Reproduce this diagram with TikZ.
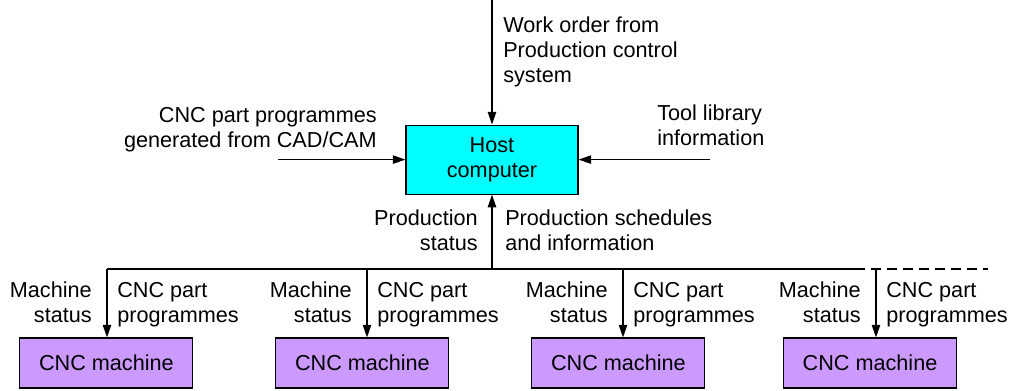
\documentclass[tikz,border=0pt]{standalone}
\usepackage{fontspec}
\setmainfont{Liberation Sans}
\usetikzlibrary{arrows.meta, positioning}

\definecolor{hostcyan}{RGB}{0,255,255}
\definecolor{machviolet}{RGB}{204,153,255}

\begin{document}
\begin{tikzpicture}[
    txt/.style={font=\fontsize{15.4}{17.8}\selectfont, inner sep=0pt},
    flow/.style={line width=0.9pt, -{Triangle[length=9pt, width=6pt]}},
    hostbox/.style={draw, line width=0.8pt, fill=hostcyan, minimum width=4.3cm,
        minimum height=1.725cm, align=center, txt},
    machbox/.style={draw, line width=0.8pt, fill=machviolet, minimum width=4.325cm,
        minimum height=1.25cm, txt}
]
    \useasboundingbox (0,0) rectangle (25.3,9.75);

    % Host computer
    \node[hostbox] (host) at (12.3,5.76) {Host\\computer};

    % Inputs to the host
    \coordinate (order) at (12.3,9.75);
    \coordinate (cadcam) at (6.95,5.76);
    \coordinate (tools) at (17.75,5.76);
    \draw[flow] (order) -- (host.north);
    \draw[flow] (cadcam) -- (host.west);
    \draw[flow] (tools) -- (host.east);
    \node[txt, align=left, anchor=north west] (orderlbl) at (12.575,9.33)
        {Work order from\\Production control\\system};
    \node[txt, align=right, anchor=north east] (cadcamlbl) at (9.425,7.08)
        {CNC part programmes\\generated from CAD/CAM};
    \node[txt, align=left, anchor=north west] (toolslbl) at (16.425,7.13)
        {Tool library\\information};

    % Bus to the machines
    \coordinate (busL) at (2.675,3.025);
    \coordinate (busR) at (21.375,3.025);
    \coordinate (busE) at (24.7,3.025);
    \coordinate (up) at (12.3,3.025);
    \draw[line width=0.9pt] (busL) -- (busR);
    \draw[line width=0.9pt, dash pattern=on 0.25cm off 0.15cm] (busR) -- (busE);
    \draw[flow] (up) -- (host.south);
    \node[txt, align=right, anchor=north east] (statuslbl) at (11.95,4.5)
        {Production\\status};
    \node[txt, align=left, anchor=north west] (schedlbl) at (12.625,4.5)
        {Production schedules\\and information};

    % CNC machines
    \foreach \i/\ax/\mx in {1/2.675/2.66, 2/9.175/9.06, 3/15.575/15.46, 4/21.9/21.75} {
        \node[machbox] (m\i) at (\mx,0.675) {CNC machine};
        \coordinate (tap\i) at (\ax,3.025);
        \draw[flow] (tap\i) -- (tap\i |- m\i.north);
        \node[txt, align=right, anchor=north east] (ms\i) at (\ax-0.375,2.7)
            {Machine\\status};
        \node[txt, align=left, anchor=north west] (mp\i) at (\ax+0.25,2.7)
            {CNC part\\programmes};
    }
\end{tikzpicture}
\end{document}
